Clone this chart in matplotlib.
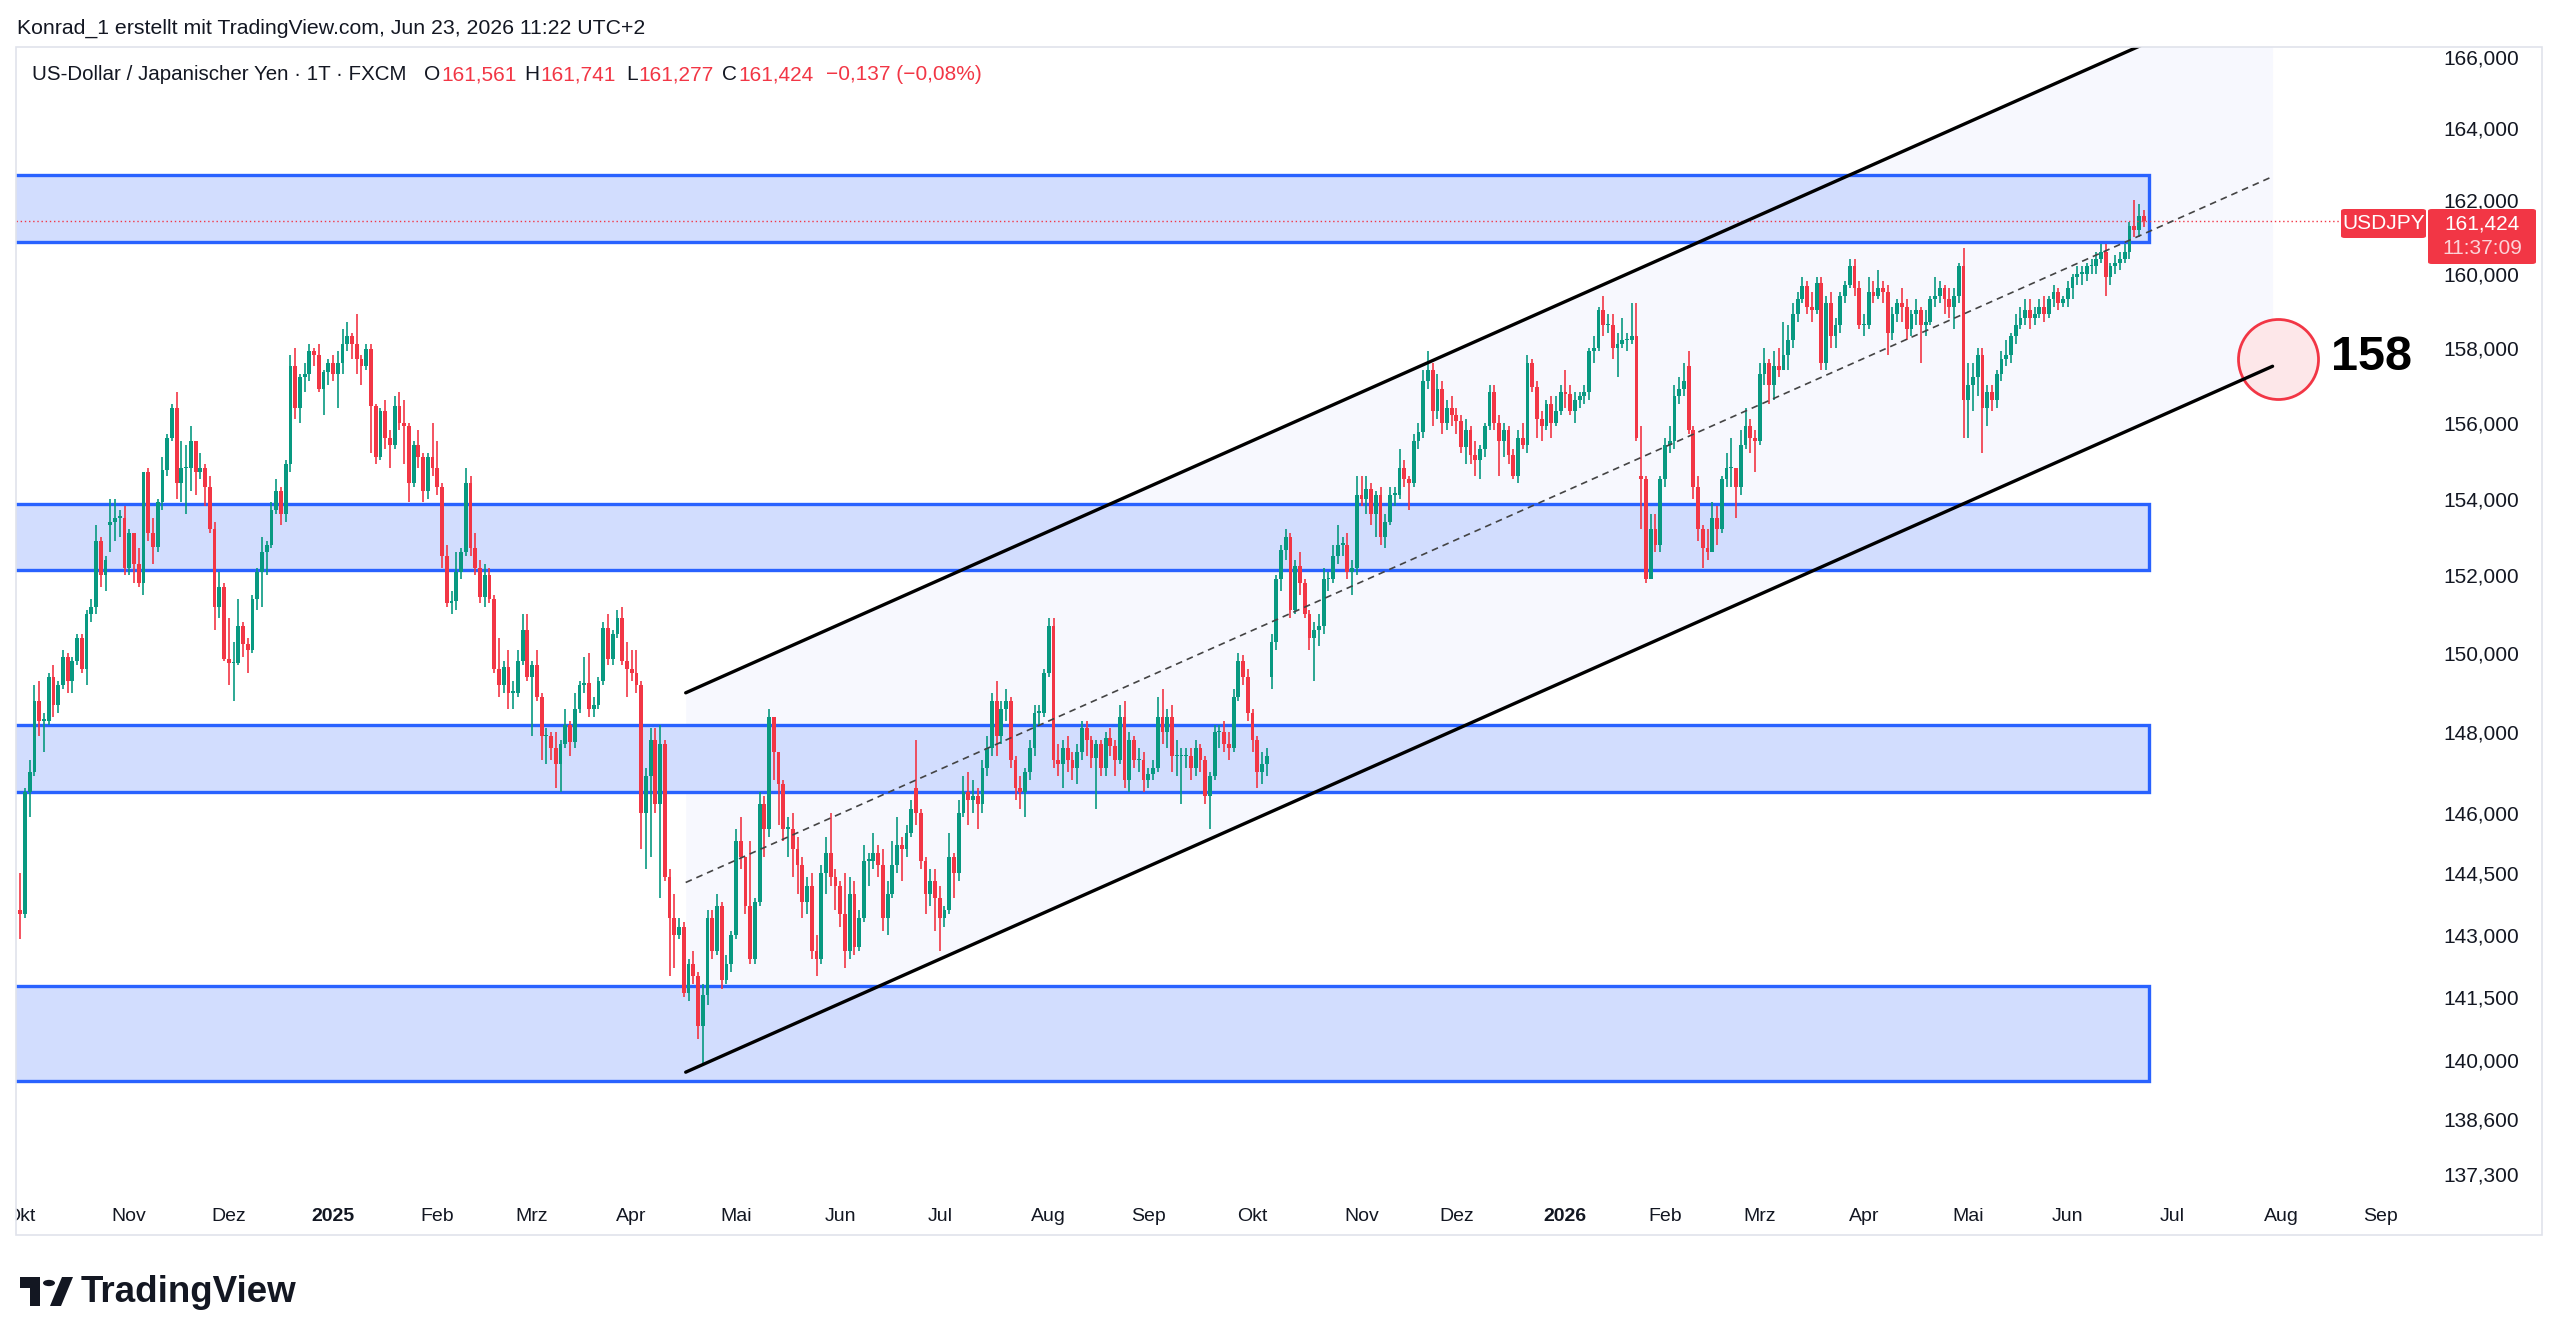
import matplotlib.pyplot as plt
import numpy as np
import pandas as pd
from matplotlib.patches import Rectangle, FancyBboxPatch, Polygon, Circle
from matplotlib.ticker import NullLocator, NullFormatter

plt.rcParams['font.family'] = ['Liberation Sans', 'DejaVu Sans']

# ---- daily candles USD/JPY (Oct 2024 - Jun 2026) ----
close_a = [143.5, 146.5, 147.0, 148.8, 148.3, 148.3, 149.4, 148.7, 149.2, 149.9,
           149.3, 149.8, 150.4, 149.6, 151.0, 151.2, 152.9, 152.0, 152.4, 153.4,
           153.5, 153.5, 152.2, 153.1, 152.3, 151.8, 154.7, 153.1, 152.75, 153.9,
           154.75, 155.6, 156.4, 154.4, 154.8, 154.8, 155.5, 154.7, 154.8, 154.3,
           153.2, 151.2, 151.7, 149.85, 149.75, 149.75, 150.7, 150.25, 150.1, 151.4,
           152.1, 152.6, 152.8, 153.7, 154.2, 153.6, 154.9, 157.5, 156.4, 157.2,
           157.3, 157.9, 157.8, 156.9, 157.35, 157.6, 157.3, 157.6, 158.1, 158.3,
           158.1, 157.7, 157.5, 157.95]
high_a = [144.5, 146.6, 147.3, 149.2, 149.3, 148.5, 149.5, 149.7, 149.3, 150.1,
          150.0, 149.9, 150.5, 150.5, 151.1, 151.4, 153.3, 153.0, 152.5, 154.0,
          154.0, 153.7, 153.8, 153.2, 152.7, 152.7, 154.7, 154.8, 153.5, 154.0,
          155.1, 155.7, 156.5, 156.8, 155.5, 155.4, 155.9, 155.5, 155.2, 154.9,
          154.6, 153.4, 152.1, 151.8, 150.9, 150.3, 151.4, 150.8, 150.4, 151.5,
          152.2, 153.0, 152.9, 153.9, 154.5, 154.3, 155.0, 157.8, 158.0, 157.3,
          157.6, 158.1, 158.0, 158.1, 157.4, 157.7, 157.8, 157.9, 158.5, 158.7,
          158.4, 158.9, 157.8, 158.1]
low_a = [142.9, 143.4, 145.9, 146.9, 147.9, 147.5, 148.2, 148.4, 148.5, 149.1,
         149.0, 149.0, 149.7, 149.5, 149.2, 150.8, 151.0, 151.7, 151.6, 152.6,
         152.9, 153.0, 152.0, 152.0, 151.8, 151.7, 151.5, 152.9, 152.3, 152.6,
         153.7, 154.6, 155.5, 154.0, 153.9, 153.6, 154.2, 154.1, 154.5, 153.8,
         153.1, 150.6, 150.9, 149.8, 149.2, 148.8, 149.7, 149.9, 149.5, 150.0,
         151.1, 151.2, 152.0, 152.7, 153.6, 153.3, 153.4, 154.7, 156.1, 156.0,
         156.8, 157.1, 157.5, 156.8, 156.2, 157.0, 157.1, 156.4, 157.3, 157.9,
         157.7, 157.3, 157.0, 157.4]

close_b = [156.45, 155.1, 156.3, 155.6, 155.4, 156.45, 156.0, 155.9, 154.4, 155.4,
           155.1, 154.2, 155.1, 154.8, 154.3, 152.5, 151.3, 151.35, 152.1, 152.6,
           154.4, 152.7, 152.2, 151.45, 152.0, 151.4, 149.6, 149.2, 149.65, 149.0,
           149.0, 149.8, 150.6, 149.4, 149.7, 148.9, 147.9, 147.9, 147.6, 147.2,
           147.7, 148.2, 147.75, 148.6, 149.2, 149.25, 148.6, 148.7, 149.3, 150.65,
           149.85, 150.5, 150.9, 149.8, 149.6, 149.5, 149.2, 146.0, 146.9, 147.8,
           146.2, 147.7, 144.4, 143.4, 143.0, 143.2, 141.6, 142.3, 142.0, 140.8,
           141.55, 143.4, 142.6, 143.7, 141.9, 142.3, 143.0]
high_b = [158.1, 156.5, 156.4, 156.6, 155.8, 156.7, 156.8, 156.6, 156.0, 155.5,
          155.8, 155.2, 155.2, 156.0, 155.5, 154.4, 152.8, 151.6, 152.6, 152.7,
          154.8, 154.6, 153.1, 152.4, 152.3, 152.2, 151.5, 150.4, 149.8, 150.1,
          149.3, 150.1, 151.0, 151.0, 149.8, 150.1, 149.0, 148.1, 148.0, 148.0,
          147.8, 148.6, 148.3, 149.0, 149.3, 149.9, 150.0, 148.9, 149.4, 150.8,
          151.0, 150.6, 151.1, 151.2, 150.3, 150.1, 150.1, 149.3, 147.1, 148.1,
          148.1, 148.2, 147.8, 144.6, 144.0, 143.4, 143.3, 142.4, 142.6, 142.1,
          141.8, 143.6, 143.6, 144.0, 143.8, 142.5, 143.1]
low_b = [155.2, 154.9, 155.0, 155.3, 154.8, 155.3, 155.8, 154.9, 153.9, 154.3,
         154.8, 153.9, 154.0, 154.6, 154.1, 152.2, 151.2, 151.0, 151.1, 151.9,
         152.5, 152.5, 152.0, 151.3, 151.2, 151.3, 149.5, 148.9, 149.0, 148.6,
         148.6, 148.9, 149.7, 149.3, 147.9, 148.8, 147.3, 147.2, 147.3, 146.6,
         146.5, 147.6, 147.4, 147.6, 148.5, 149.0, 148.4, 148.4, 148.6, 149.2,
         149.7, 149.7, 150.4, 149.7, 148.9, 149.3, 149.0, 145.1, 144.6, 144.9,
         146.0, 143.9, 144.3, 142.0, 142.2, 142.9, 141.5, 141.4, 141.8, 140.5,
         139.9, 141.3, 142.4, 142.5, 141.7, 141.8, 142.1]

close_c = [145.3, 144.9, 143.7, 142.4, 143.8, 146.2, 145.6, 148.4, 147.5, 146.7,
           145.6, 145.6, 145.1, 144.7, 143.8, 144.2, 142.6, 142.4, 144.5, 145.0,
           144.4, 144.2, 143.5, 142.6, 144.0, 142.7, 143.4, 144.8, 144.8, 145.0,
           144.7, 143.4, 144.0, 144.7, 145.2, 145.1, 145.5, 146.1, 146.0, 144.8,
           144.0, 144.3, 143.9, 143.4, 143.6, 144.9, 144.5, 146.0, 146.5, 146.3,
           146.4, 146.2, 147.1, 147.6, 148.8, 147.9, 148.6, 148.8, 147.3, 146.6,
           146.5, 147.0, 147.6, 148.5, 148.5, 149.5, 150.7, 147.3, 147.2, 147.6,
           147.3, 147.1, 147.5, 148.1, 147.8]
high_c = [145.6, 145.9, 144.9, 145.3, 143.9, 146.5, 146.4, 148.6, 148.4, 147.5,
          146.8, 145.9, 146.0, 145.4, 144.9, 144.4, 144.5, 143.0, 144.7, 145.4,
          146.0, 144.6, 144.3, 144.5, 144.4, 144.3, 143.6, 145.2, 145.0, 145.5,
          145.2, 145.1, 144.3, 145.3, 145.9, 145.4, 145.7, 146.3, 147.8, 146.1,
          144.9, 144.6, 144.6, 144.2, 143.7, 145.5, 145.0, 146.3, 146.9, 147.0,
          146.8, 146.6, 147.3, 147.9, 149.0, 149.3, 148.8, 149.1, 148.9, 147.4,
          146.9, 147.1, 147.8, 148.7, 148.7, 149.6, 150.9, 150.9, 147.7, 147.8,
          147.9, 147.5, 147.7, 148.3, 148.3]
low_c = [142.9, 144.6, 143.5, 142.3, 142.3, 143.7, 144.9, 145.4, 146.8, 145.7,
         145.3, 144.9, 144.4, 144.0, 143.4, 143.5, 142.4, 142.0, 142.3, 144.0,
         144.2, 143.6, 143.2, 142.2, 142.4, 142.5, 142.6, 143.3, 144.2, 144.6,
         144.4, 143.1, 143.0, 143.9, 144.5, 144.3, 144.9, 145.4, 145.7, 144.6,
         143.5, 143.7, 143.1, 142.6, 143.2, 143.5, 143.9, 144.3, 145.9, 145.7,
         146.0, 145.6, 146.0, 146.9, 147.4, 147.4, 147.7, 148.3, 147.1, 146.3,
         146.1, 145.9, 146.8, 147.4, 148.2, 148.4, 149.4, 147.1, 146.9, 146.6,
         147.0, 146.8, 146.7, 147.3, 147.4]

close_d = [147.35, 147.7, 147.1, 147.85, 147.65, 147.3, 148.4, 146.8, 147.8, 147.3,
           147.3, 146.8, 146.95, 147.1, 148.4, 148.0, 148.4, 147.4, 147.4, 147.4,
           147.4, 147.1, 147.6, 147.3, 146.4, 146.9, 148.0, 148.0, 147.7, 147.6,
           148.9, 149.8, 149.4, 148.5, 147.8, 147.0, 147.2, 147.4, 150.3, 151.9,
           152.65, 153.0, 151.1, 152.25, 151.8, 151.0, 150.4, 150.6, 150.7, 151.9,
           151.9, 152.5, 152.8, 152.8, 152.1, 152.2, 154.1, 154.0, 154.25, 153.6,
           154.1, 153.0, 153.4, 154.1, 154.1, 154.8, 154.5, 154.4, 155.5, 155.75,
           157.1, 157.4, 156.3, 156.9, 156.0]
high_d = [147.9, 147.8, 147.8, 148.0, 148.1, 147.8, 148.7, 148.8, 148.0, 147.9,
          147.6, 147.5, 147.1, 147.3, 148.9, 149.1, 148.6, 148.7, 147.8, 147.6,
          147.6, 147.6, 147.8, 147.7, 147.4, 147.0, 148.2, 148.2, 148.3, 148.0,
          149.1, 150.0, 149.95, 149.6, 148.6, 147.9, 147.5, 147.6, 150.5, 152.0,
          152.8, 153.2, 153.1, 152.4, 152.6, 151.9, 151.1, 150.8, 151.0, 152.2,
          152.1, 152.8, 153.3, 153.0, 153.1, 152.4, 154.6, 154.6, 154.6, 154.4,
          154.2, 154.3, 153.6, 154.3, 154.3, 155.3, 155.0, 154.6, 155.7, 156.0,
          157.4, 157.9, 157.6, 157.3, 157.1]
low_d = [147.1, 146.1, 146.9, 146.9, 147.4, 146.9, 147.2, 146.6, 146.5, 147.1,
         147.0, 146.5, 146.6, 146.8, 147.0, 147.7, 147.6, 147.0, 146.9, 146.2,
         147.1, 146.8, 146.9, 147.0, 146.2, 145.6, 146.8, 147.6, 147.5, 147.3,
         147.5, 148.8, 149.2, 148.3, 147.5, 146.6, 146.7, 146.9, 149.1, 150.1,
         151.6, 152.4, 150.9, 151.0, 151.5, 150.9, 150.1, 149.3, 150.2, 150.5,
         151.6, 151.8, 152.3, 152.5, 151.9, 151.5, 152.0, 153.8, 153.6, 153.3,
         153.0, 152.8, 152.7, 153.3, 153.8, 154.0, 154.3, 153.7, 154.3, 155.3,
         155.6, 156.9, 155.9, 156.1, 155.7]

close_e = [156.4, 156.2, 156.05, 155.35, 155.8, 155.15, 155.0, 155.3, 155.9, 156.8,
           156.0, 155.5, 155.8, 155.15, 154.6, 155.6, 155.4, 157.6, 156.95, 156.1,
           155.9, 156.5, 156.0, 156.3, 156.8, 156.75, 156.3, 156.6, 156.7, 156.8,
           157.9, 158.0, 159.0, 158.6, 158.6, 158.0, 158.1, 158.2, 158.2, 158.3,
           155.6, 154.5, 151.9, 153.2, 152.8, 154.5, 155.4, 155.5, 156.7, 156.9,
           157.1, 155.8, 154.3, 153.2, 152.7, 152.6, 153.5, 153.2, 154.5, 154.8,
           154.8, 154.3, 155.4, 155.9, 155.6, 155.5, 157.3, 157.6, 157.0, 157.5,
           157.4, 157.8, 158.2, 158.9]
high_e = [156.6, 156.7, 156.4, 156.2, 156.1, 155.9, 155.5, 155.4, 156.0, 157.0,
          157.0, 156.2, 156.0, 155.9, 155.3, 155.8, 156.0, 157.8, 157.7, 157.1,
          156.3, 156.6, 156.7, 156.7, 157.0, 157.4, 157.0, 156.8, 156.8, 157.0,
          158.0, 158.3, 159.1, 159.4, 158.9, 158.9, 158.4, 158.8, 158.4, 159.2,
          159.2, 155.9, 154.6, 153.6, 153.6, 154.6, 155.6, 155.9, 157.0, 157.2,
          157.6, 157.9, 155.9, 154.6, 153.3, 153.2, 153.9, 153.8, 154.6, 155.2,
          155.6, 154.8, 155.8, 156.4, 156.1, 155.8, 157.6, 158.0, 157.7, 157.9,
          158.0, 158.7, 158.6, 159.2]
low_e = [155.8, 155.9, 155.7, 155.2, 154.9, 154.9, 154.6, 154.5, 155.1, 155.8,
         155.8, 154.6, 155.1, 154.9, 154.5, 154.4, 155.3, 155.2, 156.8, 155.6,
         155.5, 155.8, 155.6, 155.9, 156.2, 156.4, 156.2, 156.0, 156.4, 156.5,
         156.6, 157.6, 157.9, 158.3, 158.4, 157.7, 157.2, 158.0, 157.9, 158.1,
         155.5, 153.2, 151.8, 151.9, 152.6, 152.6, 154.3, 155.2, 155.3, 156.5,
         156.7, 155.7, 154.0, 152.9, 152.2, 152.4, 152.6, 152.8, 153.1, 154.3,
         154.3, 153.5, 154.1, 155.3, 155.2, 154.7, 155.4, 157.0, 156.5, 156.6,
         157.2, 157.6, 157.4, 158.0]

close_f = [159.3, 159.65, 159.1, 159.0, 159.75, 157.6, 159.2, 158.3, 158.6, 159.4,
           159.7, 160.2, 159.6, 158.6, 158.6, 159.5, 159.4, 159.6, 159.5, 158.4,
           158.9, 159.2, 159.1, 158.5, 158.9, 159.0, 158.6, 158.7, 159.3, 159.4,
           159.6, 159.3, 159.1, 159.4, 160.2, 156.6, 157.0, 157.2, 157.8, 156.4,
           156.8, 156.6, 157.3, 157.7, 157.8, 158.3, 158.6, 158.8, 159.0, 158.8,
           158.9, 159.1, 158.9, 159.3, 159.5, 159.2, 159.3, 159.6, 159.9, 160.0,
           160.0, 160.2, 160.2, 160.4, 160.6, 159.9, 160.2, 160.3, 160.4, 160.6,
           161.3, 161.2, 161.56, 161.424]
high_f = [159.5, 159.9, 159.8, 159.5, 159.9, 159.9, 159.4, 159.5, 158.8, 159.5,
          159.8, 160.4, 160.4, 159.8, 158.9, 159.9, 159.8, 160.1, 159.8, 159.7,
          159.1, 159.3, 159.6, 159.3, 159.0, 159.3, 159.1, 159.0, 159.4, 159.9,
          159.8, 159.7, 159.6, 159.6, 160.3, 160.7, 157.6, 157.6, 158.0, 158.0,
          157.0, 157.0, 157.4, 157.9, 158.2, 158.4, 158.9, 159.1, 159.3, 159.3,
          159.1, 159.3, 159.4, 159.4, 159.7, 159.6, 159.4, 159.8, 160.0, 160.2,
          160.2, 160.3, 160.4, 160.6, 160.8, 160.8, 160.3, 160.5, 160.6, 160.8,
          161.4, 162.0, 161.9, 161.741]
low_f = [158.7, 159.2, 158.9, 158.7, 158.9, 157.4, 157.4, 158.0, 158.0, 158.4,
         159.2, 159.6, 159.4, 158.5, 158.3, 158.5, 159.2, 159.3, 159.2, 157.8,
         158.2, 158.7, 158.7, 158.2, 158.3, 158.6, 157.6, 158.3, 158.6, 159.1,
         159.2, 158.9, 158.8, 158.5, 159.2, 155.6, 155.6, 156.3, 156.7, 155.2,
         155.9, 156.3, 156.4, 157.1, 157.5, 157.6, 158.1, 158.5, 158.6, 158.5,
         158.6, 158.8, 158.7, 158.8, 159.1, 159.0, 159.1, 159.1, 159.3, 159.7,
         159.7, 159.8, 160.0, 160.0, 160.3, 159.4, 159.7, 160.0, 160.1, 160.3,
         160.4, 161.0, 161.0, 161.277]

# opens equal the previous close except where the chart shows a gap
gap_opens = {0: 143.6, 19: 153.3, 189: 146.6, 264: 149.4, 342: 154.6, 352: 157.5, 448: 161.561}

# horizontal zones (low, high) and the parallel channel
zones = [(160.85, 162.71), (152.15, 153.85), (146.5, 148.19), (139.49, 141.75)]
zone_end = 449.05
chan_x = [140.4, 475.2]
chan_low = [139.7, 157.5]
chan_width = 149.0 / 139.7
target = (476.3, 157.7)

price_ticks = [137.3, 138.6, 140, 141.5, 143, 144.5, 146, 148, 150, 152,
               154, 156, 158, 160, 162, 164, 166]
month_names = {2: 'Feb', 3: 'Mrz', 4: 'Apr', 5: 'Mai', 6: 'Jun', 7: 'Jul',
               8: 'Aug', 9: 'Sep', 10: 'Okt', 11: 'Nov', 12: 'Dez'}

GREEN = '#089981'
RED = '#F23645'
TXT = '#131722'
BLUE = '#2962ff'

W, H = 2560, 1343
fig = plt.figure(figsize=(W / 100, H / 100), dpi=100)


def fx(px):
    return px / W


def fy(py):
    return 1 - py / H


closes = np.array(close_a + close_b + close_c + close_d + close_e + close_f)
highs = np.array(high_a + high_b + high_c + high_d + high_e + high_f)
lows = np.array(low_a + low_b + low_c + low_d + low_e + low_f)
opens = np.r_[closes[0], closes[:-1]]
for k, v in gap_opens.items():
    opens[k] = v
highs = np.maximum(highs, np.maximum(opens, closes))
lows = np.minimum(lows, np.minimum(opens, closes))
idx = np.arange(len(closes))

# trading days (weekdays, no new year bar)
days = pd.bdate_range('2024-10-01', '2026-10-30')
days = days[~((days.month == 1) & (days.day == 1))]

L, R, T, B = 16.3, 2427.8, 47.3, 1193.5
ax = fig.add_axes([fx(L), fy(B), fx(R - L), (B - T) / H])
ax.set_yscale('log')
XMIN, XMAX = -0.83, 507.95
ax.set_xlim(XMIN, XMAX)
ax.set_ylim(136.85, 166.27)
for s in ax.spines.values():
    s.set_visible(False)
ax.set_xticks([])
ax.yaxis.tick_right()
ax.yaxis.set_minor_locator(NullLocator())
ax.yaxis.set_minor_formatter(NullFormatter())
ax.set_yticks(price_ticks)
ax.set_yticklabels([f'{t:.3f}'.replace('.', ',') for t in price_ticks])
ax.tick_params(axis='y', length=0, pad=11.5, labelsize=15, labelcolor=TXT)

# channel shading
cx = np.array(chan_x)
clo = np.array(chan_low)
chi = clo * chan_width
cmid = clo * np.sqrt(chan_width)
ax.fill_between(cx, clo, chi, color='#f7f8fe', lw=0, zorder=1)

# zones
for lo, hi in zones:
    ax.add_patch(Rectangle((-20, lo), zone_end + 20, hi - lo, facecolor='#d2ddfe',
                           edgecolor=BLUE, lw=2.4, zorder=2))

# candles
up = closes >= opens
cols = np.where(up, GREEN, RED)
ax.vlines(idx, lows, highs, colors=cols, lw=1.2, zorder=3)
ax.bar(idx, np.maximum(np.abs(closes - opens), 0.04), bottom=np.minimum(opens, closes),
       width=0.8, color=cols, linewidth=0, zorder=3.1)

# channel lines
ax.plot(cx, clo, color='black', lw=2.4, zorder=5, solid_capstyle='round')
ax.plot(cx, chi, color='black', lw=2.4, zorder=5, solid_capstyle='round')
ax.plot(cx, cmid, color='#444444', lw=1.2, ls=(0, (4, 3)), zorder=5)

# last price line
ax.plot([XMIN, 489.7], [closes[-1], closes[-1]], color=RED, lw=1.0, ls=(0, (1, 2)), zorder=4)

# target circle
ax.scatter([target[0]], [target[1]], s=3318, facecolor='#fde7e9', edgecolor=RED,
           lw=2.0, zorder=4)
fig.text(fx(2331), fy(357), '158', fontsize=35, fontweight='bold', color='black',
         ha='left', va='center')

# time scale
tax = fig.add_axes([fx(L), fy(1235), fx(R - L), (1235 - B) / H])
tax.set_xlim(XMIN, XMAX)
tax.set_ylim(0, 1)
tax.axis('off')
month_start = pd.Series(np.arange(len(days)), index=days).groupby([days.year, days.month]).first()
for (yr, mo), i in month_start.items():
    if i > XMAX:
        continue
    lab = str(yr) if mo == 1 else month_names[mo]
    tax.text(i, 0.45, lab, ha='center', va='center', fontsize=14, color=TXT,
             fontweight='bold' if mo == 1 else 'normal', clip_on=True)

# header texts
fig.text(fx(17), fy(28), 'Konrad_1 erstellt mit TradingView.com, Jun 23, 2026 11:22 UTC+2',
         fontsize=15.3, color=TXT, va='center', ha='left')
fig.text(fx(31.6), fy(75), 'US-Dollar / Japanischer Yen · 1T · FXCM', fontsize=14.8,
         color=TXT, va='center', ha='left')
legend_parts = [(424, 'O', TXT), (441, '161,561', RED), (524, 'H', TXT), (540, '161,741', RED),
                (626, 'L', TXT), (638, '161,277', RED), (722, 'C', TXT), (738, '161,424', RED),
                (826, '−0,137 (−0,08%)', RED)]
for xp, s, c in legend_parts:
    fig.text(fx(xp), fy(75), s, fontsize=15, color=c, va='center', ha='left')

# price labels on the right
fig.patches.append(FancyBboxPatch((fx(2341), fy(238)), fx(85), 29 / H,
                                  boxstyle='round,pad=0,rounding_size=0.0015',
                                  transform=fig.transFigure, fc=RED, ec='none', zorder=5))
fig.text(fx(2383.5), fy(223.5), 'USDJPY', fontsize=15, color='white', ha='center',
         va='center', zorder=6)
fig.patches.append(FancyBboxPatch((fx(2428), fy(264)), fx(108), 55 / H,
                                  boxstyle='round,pad=0,rounding_size=0.0015',
                                  transform=fig.transFigure, fc=RED, ec='none', zorder=5))
fig.text(fx(2482), fy(224), f'{closes[-1]:.3f}'.replace('.', ','), fontsize=15,
         color='white', ha='center', va='center', zorder=6)
fig.text(fx(2482), fy(248), '11:37:09', fontsize=15, color='#fcd3d8', ha='center',
         va='center', zorder=6)

# pane border
fig.patches.append(Rectangle((fx(16.3), fy(1235)), fx(2542 - 16.3), (1235 - 47.3) / H,
                             transform=fig.transFigure, fill=False, ec='#e0e3eb', lw=1.2))


# TradingView logo
def pix_poly(pts):
    return Polygon([(fx(a), fy(b)) for a, b in pts], closed=True,
                   transform=fig.transFigure, fc=TXT, ec='none')


fig.patches.append(pix_poly([(20, 1277), (40, 1277), (40, 1288), (20, 1288)]))
fig.patches.append(pix_poly([(30, 1277), (40, 1277), (40, 1306), (30, 1306)]))
fig.patches.append(pix_poly([(50, 1306), (61, 1306), (73, 1277), (62, 1277)]))
fig.patches.append(Circle((fx(49), fy(1283)), 6 / W, transform=fig.transFigure,
                          fc=TXT, ec='none'))
fig.text(fx(81), fy(1292), 'TradingView', fontsize=26.5, fontweight='bold', color=TXT,
         ha='left', va='center')

fig.savefig('out.png', dpi=100, facecolor='white')
